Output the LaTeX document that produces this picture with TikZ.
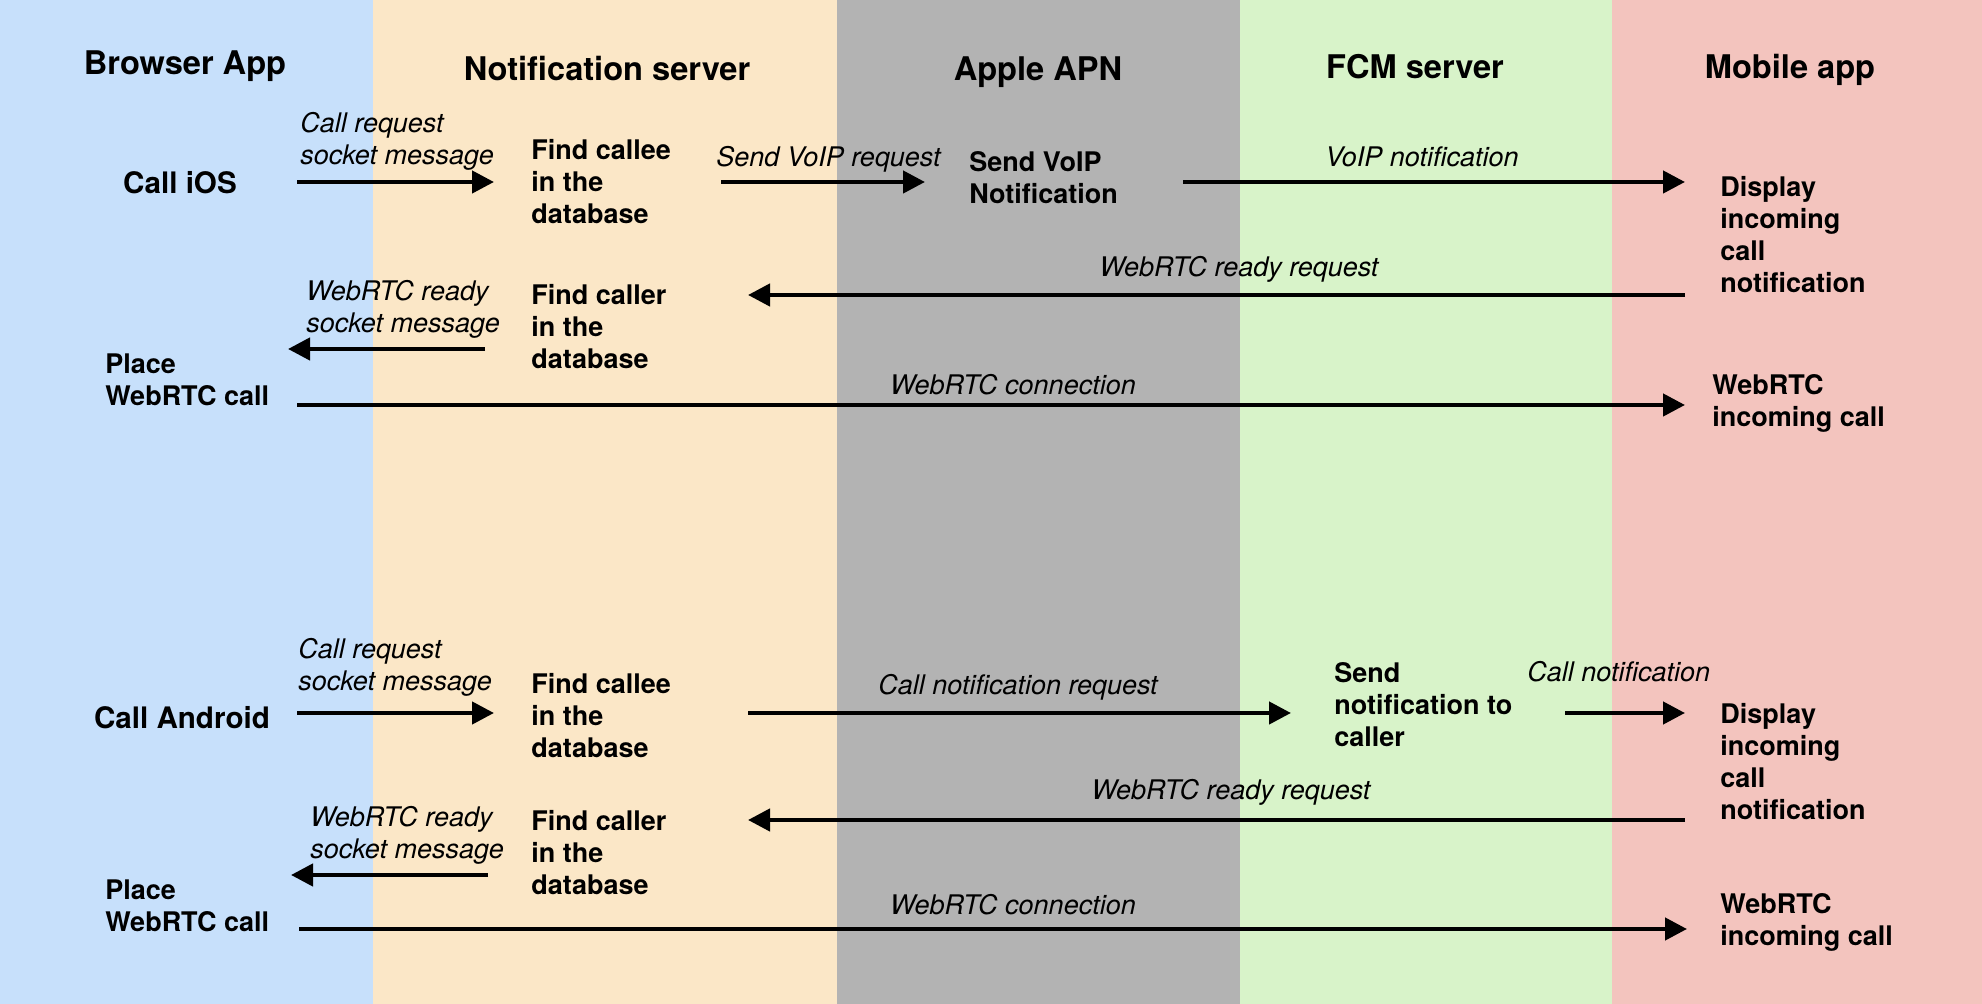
\documentclass[tikz,border=0pt]{standalone}
\usepackage{fontspec}
\setmainfont{TeX Gyre Heros}
\usetikzlibrary{arrows.meta}
\definecolor{cblue}{RGB}{199,224,251}
\definecolor{cbeige}{RGB}{251,231,199}
\definecolor{cgray}{RGB}{179,179,179}
\definecolor{cgreen}{RGB}{216,243,201}
\definecolor{cpink}{RGB}{243,196,190}
\begin{document}
\begin{tikzpicture}[x=0.5pt,y=-0.5pt,
  head/.style={font=\fontsize{16.3pt}{19pt}\selectfont\bfseries, inner sep=0pt},
  stepbox/.style={font=\fontsize{13.5pt}{16pt}\selectfont\bfseries, align=left, anchor=west, inner sep=0pt},
  stepc/.style={font=\fontsize{14.8pt}{17pt}\selectfont\bfseries, inner sep=0pt},
  msg/.style={font=\fontsize{13.5pt}{16pt}\selectfont\itshape, align=left, inner sep=0pt},
  flow/.style={line width=2.2pt, -{Triangle[length=11pt,width=11pt]}}
]
\useasboundingbox (0,0) rectangle (1982,1004);
\fill[cblue] (0,0) rectangle (373,1004);
\fill[cbeige] (373,0) rectangle (837,1004);
\fill[cgray] (837,0) rectangle (1240,1004);
\fill[cgreen] (1240,0) rectangle (1612,1004);
\fill[cpink] (1612,0) rectangle (1982,1004);

% headers
\node[head] (hb) at (185,66) {Browser App};
\node[head] (hn) at (607,69) {Notification server};
\node[head] (ha) at (1038,72) {Apple APN};
\node[head] (hf) at (1415,67) {FCM server};
\node[head] (hm) at (1790,70) {Mobile app};

% iOS flow
\node[stepc] (ios) at (180,183) {Call iOS};
\node[msg,anchor=west] (m1) at (300,141) {Call request\\socket message};
\node[stepbox] (fc1) at (531,182) {Find callee\\in the\\database};
\node[msg,anchor=west] (m2) at (716,159) {Send VoIP request};
\node[stepbox] (sv) at (969,178) {Send VoIP\\Notification};
\node[msg] (m3) at (1422,157) {VoIP notification};
\node[stepbox] (d1) at (1720,235) {Display\\incoming\\call\\notification};
\node[msg] (m4) at (1239,269) {WebRTC ready request};
\node[stepbox] (fr1) at (531,327) {Find caller\\in the\\database};
\node[msg,anchor=west] (m5) at (306,309) {WebRTC ready\\socket message};
\node[stepbox] (p1) at (105,380) {Place\\WebRTC call};
\node[msg] (m6) at (1013,385) {WebRTC connection};
\node[stepbox] (w1) at (1712,403) {WebRTC\\incoming call};

\coordinate (a1s) at (297,182); \coordinate (a1e) at (494,182);
\coordinate (a2s) at (721,182); \coordinate (a2e) at (925,182);
\coordinate (a3s) at (1183,182); \coordinate (a3e) at (1685,182);
\coordinate (a4s) at (1685,295); \coordinate (a4e) at (748,295);
\coordinate (a5s) at (485,349); \coordinate (a5e) at (288,349);
\coordinate (a6s) at (297,405); \coordinate (a6e) at (1685,405);
\draw[flow] (a1s) -- (a1e);
\draw[flow] (a2s) -- (a2e);
\draw[flow] (a3s) -- (a3e);
\draw[flow] (a4s) -- (a4e);
\draw[flow] (a5s) -- (a5e);
\draw[flow] (a6s) -- (a6e);

% Android flow
\node[stepc] (and) at (182,718) {Call Android};
\node[msg,anchor=west] (m7) at (298,667) {Call request\\socket message};
\node[stepbox] (fc2) at (531,716) {Find callee\\in the\\database};
\node[msg] (m8) at (1018,687) {Call notification request};
\node[stepbox] (sn) at (1334,705) {Send\\notification to\\caller};
\node[msg,anchor=west] (m9) at (1527,672) {Call notification};
\node[stepbox] (d2) at (1720,762) {Display\\incoming\\call\\notification};
\node[msg] (m10) at (1231,792) {WebRTC ready request};
\node[stepbox] (fr2) at (531,853) {Find caller\\in the\\database};
\node[msg,anchor=west] (m11) at (310,835) {WebRTC ready\\socket message};
\node[stepbox] (p2) at (105,906) {Place\\WebRTC call};
\node[msg] (m12) at (1013,905) {WebRTC connection};
\node[stepbox] (w2) at (1720,922) {WebRTC\\incoming call};

\coordinate (b1s) at (297,713); \coordinate (b1e) at (494,713);
\coordinate (b2s) at (748,713); \coordinate (b2e) at (1291,713);
\coordinate (b3s) at (1565,713); \coordinate (b3e) at (1685,713);
\coordinate (b4s) at (1685,820); \coordinate (b4e) at (748,820);
\coordinate (b5s) at (488,875); \coordinate (b5e) at (291,875);
\coordinate (b6s) at (299,929); \coordinate (b6e) at (1687,929);
\draw[flow] (b1s) -- (b1e);
\draw[flow] (b2s) -- (b2e);
\draw[flow] (b3s) -- (b3e);
\draw[flow] (b4s) -- (b4e);
\draw[flow] (b5s) -- (b5e);
\draw[flow] (b6s) -- (b6e);
\end{tikzpicture}
\end{document}
